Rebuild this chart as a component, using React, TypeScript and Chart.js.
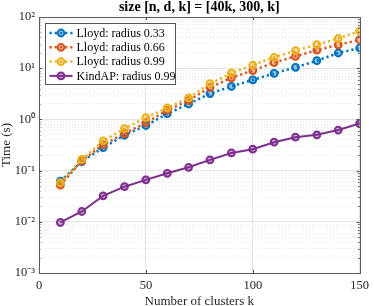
import React, { useEffect, useRef } from 'react';
import { Chart, registerables } from 'chart.js';

Chart.register(...registerables);

const titleText = 'size [n, d, k] = [40k, 300, k]';
const xAxisTitle = 'Number of clusters k';
const yAxisTitle = 'Time (s)';

const kValues = [10, 20, 30, 40, 50, 60, 70, 80, 90, 100, 110, 120, 130, 140, 150];
const lloyd033 = [0.062, 0.15, 0.28, 0.49, 0.76, 1.29, 2.0, 3.2, 4.4, 5.9, 7.9, 10.4, 14, 19.8, 24.8];
const lloyd066 = [0.052, 0.155, 0.32, 0.53, 0.86, 1.5, 2.34, 4.2, 6.5, 9.0, 12.9, 17, 22.5, 28.5, 36];
const lloyd099 = [0.058, 0.165, 0.38, 0.66, 1.08, 1.68, 2.64, 5.0, 8.0, 11.5, 16.3, 22, 29, 38, 53];
const kindap099 = [0.0097, 0.0159, 0.032, 0.0485, 0.066, 0.0886, 0.116, 0.162, 0.221, 0.262, 0.359, 0.45, 0.5, 0.62, 0.83];

const seriesLabels = ['Lloyd: radius 0.33', 'Lloyd: radius 0.66', 'Lloyd: radius 0.99', 'KindAP: radius 0.99'];
const seriesColors = ['#0072BD', '#D95319', '#EDB120', '#7E2F8E'];
const seriesDotted = [true, true, true, false];

const xTicks = [0, 50, 100, 150];
const yMajorTicks = [1e-3, 1e-2, 1e-1, 1, 10, 100];
const yTickLabels = ['10⁻³', '10⁻²', '10⁻¹', '10⁰', '10¹', '10²'];

const SERIF = "'Liberation Serif', 'Times New Roman', serif";

const majorIndex = (v: number) => yMajorTicks.findIndex((m) => Math.abs(v - m) / m < 1e-6);

const boxPlugin = {
  id: 'boxAndLegend',
  afterDatasetsDraw(chart: any) {
    const ctx = chart.ctx as CanvasRenderingContext2D;
    const a = chart.chartArea;
    const xs = chart.scales.x;
    const ys = chart.scales.y;
    ctx.save();
    // inward tick marks
    ctx.strokeStyle = '#4d4d4d';
    ctx.lineWidth = 1;
    ctx.beginPath();
    xTicks.forEach((t) => {
      const px = Math.round(xs.getPixelForValue(t)) + 0.5;
      ctx.moveTo(px, a.bottom);
      ctx.lineTo(px, a.bottom - 3);
      ctx.moveTo(px, a.top);
      ctx.lineTo(px, a.top + 3);
    });
    ys.ticks.forEach((t: any) => {
      const len = majorIndex(t.value) >= 0 ? 3 : 1.5;
      const py = Math.round(ys.getPixelForValue(t.value)) + 0.5;
      ctx.moveTo(a.left, py);
      ctx.lineTo(a.left + len, py);
      ctx.moveTo(a.right, py);
      ctx.lineTo(a.right - len, py);
    });
    ctx.stroke();
    // axes box
    ctx.strokeStyle = '#5a5a5a';
    ctx.strokeRect(Math.round(a.left) + 0.5, Math.round(a.top) + 0.5, Math.round(a.right - a.left), Math.round(a.bottom - a.top));

    // legend
    const lx = a.left + 6.5;
    const ly = a.top + 6.5;
    const lw = 130;
    const rowH = 14.3;
    const lh = 61;
    ctx.fillStyle = '#ffffff';
    ctx.fillRect(lx, ly, lw, lh);
    ctx.strokeStyle = '#555555';
    ctx.lineWidth = 1;
    ctx.strokeRect(lx, ly, lw, lh);
    chart.data.datasets.forEach((ds: any, i: number) => {
      const yc = ly + 9.5 + i * rowH;
      ctx.save();
      ctx.strokeStyle = ds.borderColor;
      ctx.lineWidth = ds.borderWidth;
      ctx.setLineDash(ds.borderDash || []);
      ctx.lineCap = 'butt';
      ctx.beginPath();
      ctx.moveTo(lx + 4, yc);
      ctx.lineTo(lx + 27, yc);
      ctx.stroke();
      ctx.setLineDash([]);
      ctx.beginPath();
      ctx.arc(lx + 15.5, yc, ds.pointRadius, 0, Math.PI * 2);
      ctx.fillStyle = ds.pointBackgroundColor;
      ctx.fill();
      ctx.lineWidth = ds.pointBorderWidth;
      ctx.strokeStyle = ds.pointBorderColor;
      ctx.stroke();
      ctx.restore();
      ctx.fillStyle = '#000000';
      ctx.font = `12px ${SERIF}`;
      ctx.textBaseline = 'middle';
      ctx.textAlign = 'left';
      ctx.fillText(ds.label, lx + 31, yc + 0.5);
    });
    ctx.restore();
  },
};

export default function App() {
  const canvasRef = useRef<HTMLCanvasElement | null>(null);

  useEffect(() => {
    if (!canvasRef.current) return;
    const datasetsValues = [lloyd033, lloyd066, lloyd099, kindap099];
    const chart = new Chart(canvasRef.current, {
      type: 'line',
      data: {
        datasets: datasetsValues.map((vals, i) => ({
          label: seriesLabels[i],
          data: kValues.map((k, j) => ({ x: k, y: vals[j] })),
          borderColor: seriesColors[i],
          borderWidth: seriesDotted[i] ? 2.5 : 2,
          borderDash: seriesDotted[i] ? [2.2, 3] : [],
          borderCapStyle: 'butt',
          pointRadius: 3.4,
          pointBorderWidth: 2,
          pointBorderColor: seriesColors[i],
          pointBackgroundColor: seriesColors[i] + '66',
          fill: false,
          tension: 0,
          order: 3 - i,
        })),
      },
      options: {
        animation: false,
        responsive: false,
        maintainAspectRatio: false,
        layout: { padding: { left: 0, right: 0, top: 0, bottom: 0 } },
        plugins: {
          legend: { display: false },
          tooltip: { enabled: false },
          title: {
            display: true,
            fullSize: false,
            text: titleText,
            color: '#000',
            font: { family: SERIF, size: 14, weight: 'bold', lineHeight: 1 },
            padding: { top: 0, bottom: 3 },
          },
        },
        scales: {
          x: {
            type: 'linear',
            min: 0,
            max: 150,
            afterBuildTicks: (scale: any) => {
              scale.ticks = xTicks.map((v) => ({ value: v }));
            },
            afterFit: (scale: any) => {
              scale.height = 33;
            },
            ticks: {
              color: '#262626',
              font: { family: SERIF, size: 12.5 },
              padding: 5,
              maxRotation: 0,
              autoSkip: false,
            },
            grid: { color: '#e3e3e3', lineWidth: 1, drawTicks: false },
            border: { display: false },
            title: {
              display: true,
              text: xAxisTitle,
              color: '#262626',
              font: { family: SERIF, size: 13, lineHeight: 0.7 },
              padding: { top: 0, bottom: 0 },
            },
          },
          y: {
            type: 'logarithmic',
            min: 1e-3,
            max: 100,
            afterBuildTicks: (scale: any) => {
              const ticks: any[] = [];
              yMajorTicks.forEach((m, idx) => {
                if (idx === yMajorTicks.length - 1) {
                  ticks.push({ value: m });
                  return;
                }
                for (let s = 1; s <= 9; s++) ticks.push({ value: m * s });
              });
              scale.ticks = ticks;
            },
            afterFit: (scale: any) => {
              scale.width = 39;
            },
            ticks: {
              color: '#262626',
              font: { family: SERIF, size: 12.5 },
              padding: 4,
              autoSkip: false,
              callback: (v: any) => {
                const idx = majorIndex(Number(v));
                return idx >= 0 ? yTickLabels[idx] : '';
              },
            },
            grid: {
              drawTicks: false,
              color: (ctx: any) =>
                ctx.tick && majorIndex(ctx.tick.value) >= 0 ? '#e3e3e3' : '#e6e6e6',
              lineWidth: 1,
            },
            border: {
              display: false,
              dash: (ctx: any) =>
                ctx.tick && majorIndex(ctx.tick.value) < 0 ? [1, 2] : [],
            },
            title: {
              display: true,
              text: yAxisTitle,
              color: '#262626',
              font: { family: SERIF, size: 13, lineHeight: 1 },
              padding: { top: 0, bottom: 0 },
            },
          },
        },
      } as any,
      plugins: [boxPlugin],
    });
    return () => chart.destroy();
  }, []);

  return (
    <div style={{ position: 'fixed', left: 0, top: 0, width: 374, height: 306, background: '#fff' }}>
      <canvas ref={canvasRef} width={374} height={306} style={{ width: 374, height: 306, display: 'block' }} />
    </div>
  );
}
